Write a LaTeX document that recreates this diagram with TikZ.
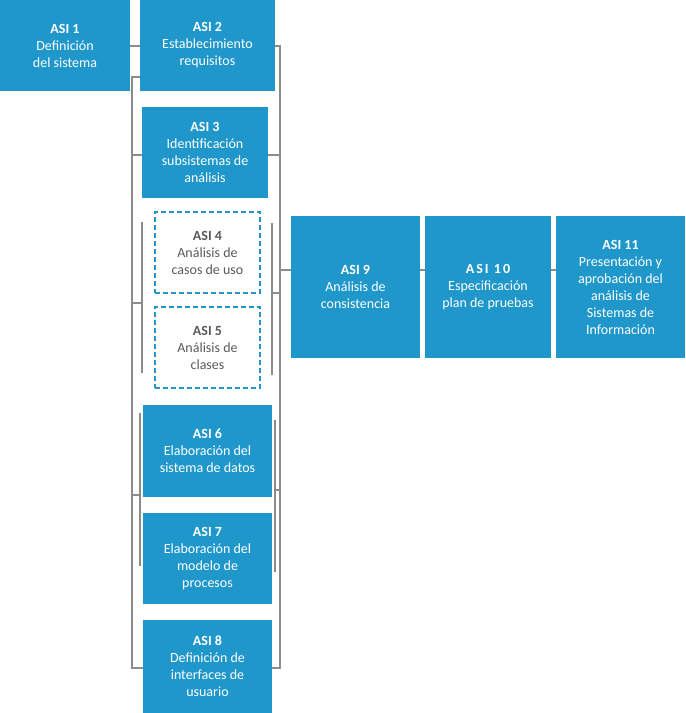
\documentclass[tikz,border=0pt]{standalone}
\usepackage{fontspec}
\setmainfont{Carlito}
\usepackage{tikz}
\definecolor{asiblue}{RGB}{31,151,203}
\definecolor{linegray}{RGB}{140,140,140}
\definecolor{textgray}{RGB}{89,89,89}

\begin{document}
\begin{tikzpicture}[x=0.75pt,y=-0.75pt,
  asibox/.style={rectangle,fill=asiblue,text=white,align=center,inner sep=0pt,
    font=\fontsize{10.5}{12.75}\selectfont},
  asidash/.style={rectangle,draw=asiblue,line width=1pt,dash pattern=on 3.5pt off 2.5pt,
    text=textgray,align=center,inner sep=0pt,font=\fontsize{10.5}{12.75}\selectfont},
  link/.style={draw=linegray,line width=1.1pt}]
\useasboundingbox (0,0) rectangle (685,713);
% phases
\node [asibox,minimum width=97.5pt,minimum height=68.25pt] (a1) at (65,45.5) {\textbf{ASI 1}\\Definición\\del sistema};
\node [asibox,minimum width=101.25pt,minimum height=68.25pt] (a2) at (207.5,45.5) {\textbf{ASI 2}\\Establecimiento\\requisitos};
\node [asibox,minimum width=94.5pt,minimum height=68.25pt] (a3) at (205,152.5) {\textbf{ASI 3}\\Identificación\\subsistemas de\\análisis};
\node [asidash,minimum width=78.75pt,minimum height=60.75pt] (a4) at (207.5,252.5) {\textbf{ASI 4}\\Análisis de\\casos de uso};
\node [asidash,minimum width=78.75pt,minimum height=60.75pt] (a5) at (207.5,347.5) {\textbf{ASI 5}\\Análisis de\\clases};
\node [asibox,minimum width=96.75pt,minimum height=69pt] (a6) at (207.5,451) {\textbf{ASI 6}\\Elaboración del\\sistema de datos};
\node [asibox,minimum width=96.75pt,minimum height=68.25pt] (a7) at (207.5,558.5) {\textbf{ASI 7}\\Elaboración del\\modelo de\\procesos};
\node [asibox,minimum width=96.75pt,minimum height=69.75pt] (a8) at (207.5,666.5) {\textbf{ASI 8}\\Definición de\\interfaces de\\usuario};
\node [asibox,minimum width=96.75pt,minimum height=106.5pt] (a9) at (355.5,287) {\textbf{ASI 9}\\Análisis de\\consistencia};
\node [asibox,minimum width=94.5pt,minimum height=106.5pt] (a10) at (488,287) {\textbf{A\kern1.5pt S\kern1.5pt I\kern4pt 1\kern1.5pt 0}\\Especificación\\plan de pruebas};
\node [asibox,minimum width=96.75pt,minimum height=106.5pt] (a11) at (620.5,287) {\textbf{ASI 11}\\Presentación y\\aprobación del\\análisis de\\Sistemas de\\Información};
% brackets
\coordinate (lt) at (132,77);
\coordinate (lb) at (132,668);
\coordinate (rt) at (280,46);
\coordinate (rb) at (280,668);
\coordinate (hub) at (280,270);
\draw [link] (a1.east |- rt) -- (a2.west |- rt);
\draw [link] (a2.west |- lt) -- (lt) -- (lb) -- (a8.west |- lb);
\draw [link] (a2.east |- rt) -- (rt) -- (rb) -- (a8.east |- rb);
\draw [link] (lt |- 0,155) -- (a3.west |- 0,155);
\draw [link] (rt |- 0,155) -- (a3.east |- 0,155);
\draw [link] (142,222) -- (142,373);
\draw [link] (lt |- 0,303) -- (142,303);
\draw [link] (272,223) -- (272,375);
\draw [link] (272,293) -- (rt |- 0,293);
\draw [link] (140,413) -- (140,566);
\draw [link] (lt |- 0,495) -- (140,495);
\draw [link] (275,420) -- (275,572);
\draw [link] (275,490) -- (rt |- 0,490);
\draw [link] (hub) -- (a9.west |- hub);
\draw [link] (a9.east |- hub) -- (a10.west |- hub);
\draw [link] (a10.east |- hub) -- (a11.west |- hub);
\end{tikzpicture}
\end{document}
